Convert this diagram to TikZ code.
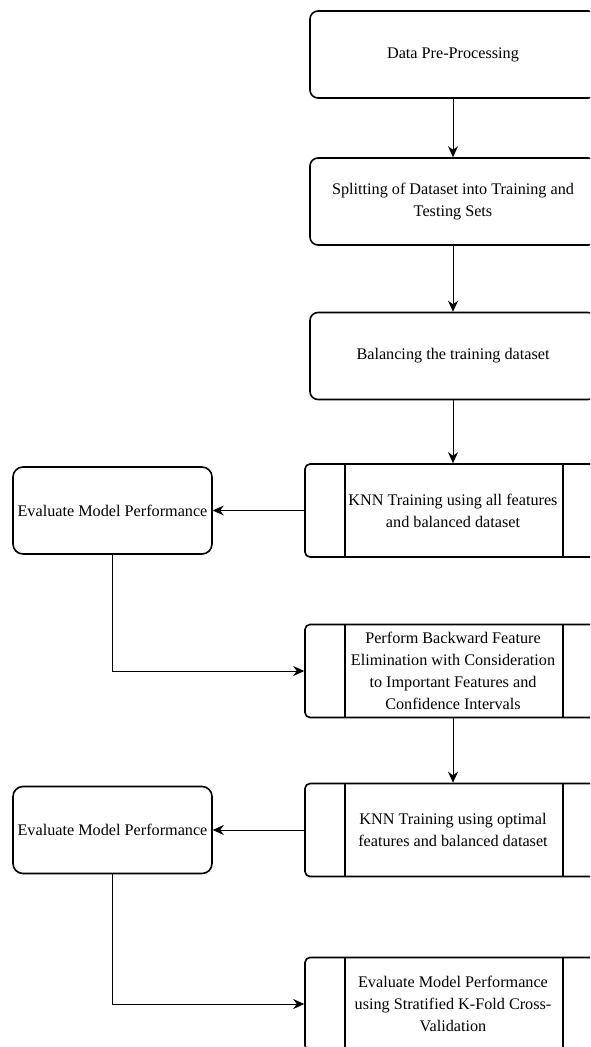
\documentclass[tikz,border=0pt]{standalone}
\usepackage{fontspec}
\setmainfont{Liberation Serif}
\usetikzlibrary{arrows.meta}

\tikzset{
  stepbox/.style={draw, line width=1.6pt, rounded corners=8pt,
    minimum width=286pt, minimum height=87pt, align=center,
    font=\fontsize{16.2}{22}\selectfont},
  procbox/.style={draw, line width=1.6pt, rounded corners=5pt,
    minimum width=296pt, minimum height=93pt, align=center,
    font=\fontsize{16.2}{22}\selectfont},
  evalbox/.style={draw, line width=1.6pt, rounded corners=10pt,
    minimum width=199pt, minimum height=87pt, align=center,
    font=\fontsize{16.2}{22}\selectfont},
  flow/.style={-{Stealth[length=11pt,width=10pt]}, line width=1pt},
  bar/.style={line width=1.6pt}
}

\begin{document}
\begin{tikzpicture}[x=1pt,y=-1pt]
          \useasboundingbox (0,0) rectangle (590,1047);
          \clip (0,0) rectangle (590,1047);

          \node[stepbox] (prep)  at (453,54.5) {Data Pre-Processing};
          \node[stepbox] (split) at (453,201.5) {Splitting of Dataset into Training and\\Testing Sets};
          \node[stepbox] (bal)   at (453,356) {Balancing the training dataset};

          \node[procbox] (knnall) at (453,510.5) {KNN Training using all features\\and balanced dataset};
          \node[procbox] (bfe)    at (453,671)   {Perform Backward Feature\\Elimination with Consideration\\to Important Features and\\Confidence Intervals};
          \node[procbox] (knnopt) at (453,830)   {KNN Training using optimal\\features and balanced dataset};
          \node[procbox] (kfold)  at (453,1004)  {Evaluate Model Performance\\using Stratified K-Fold Cross-\\Validation};

          \node[evalbox] (evalall) at (112.5,510.5) {Evaluate Model Performance};
          \node[evalbox] (evalopt) at (112.5,830)   {Evaluate Model Performance};

          % side bars of the process boxes
          \foreach \p in {knnall,bfe,knnopt,kfold}{
            \draw[bar] ([xshift=41pt]\p.north west) -- ([xshift=41pt]\p.south west);
            \draw[bar] ([xshift=-39pt]\p.north east) -- ([xshift=-39pt]\p.south east);
          }

          \draw[flow] (prep) -- (split);
          \draw[flow] (split) -- (bal);
          \draw[flow] (bal) -- (knnall);
          \draw[flow] (knnall) -- (evalall);
          \draw[flow] (evalall.south) |- (bfe.west);
          \draw[flow] (bfe) -- (knnopt);
          \draw[flow] (knnopt) -- (evalopt);
          \draw[flow] (evalopt.south) |- (kfold.west);
      \end{tikzpicture}
\end{document}
